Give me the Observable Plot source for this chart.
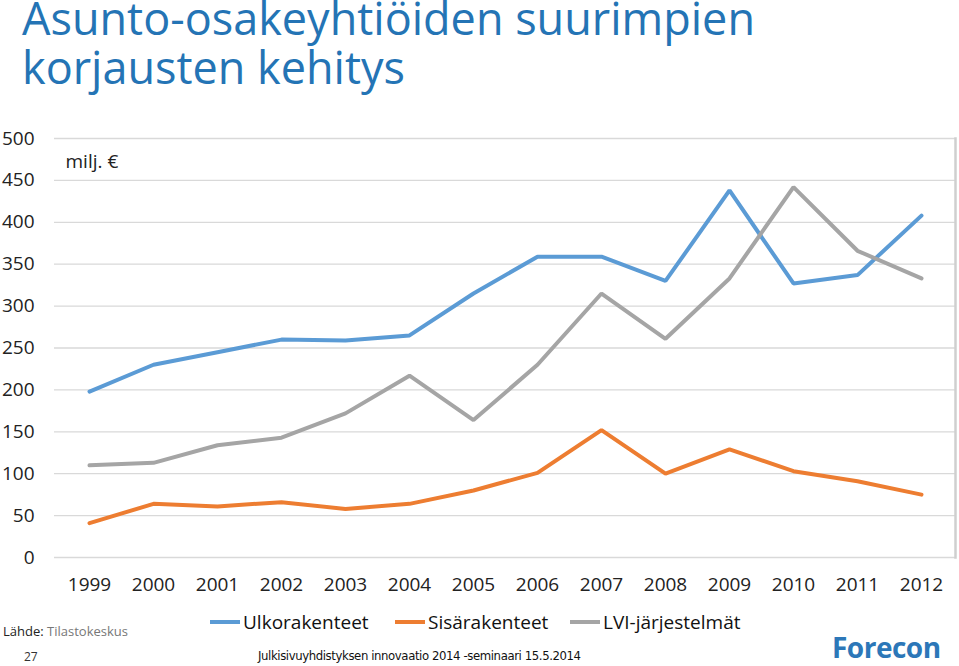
<!DOCTYPE html>
<html><head><meta charset="utf-8">
<script src="https://cdn.jsdelivr.net/npm/d3@7"></script>
<script src="https://cdn.jsdelivr.net/npm/@observablehq/plot@0.6"></script>
<style>
body{margin:0;background:#fff;font-family:"Open Sans",sans-serif;}
#wrap{position:relative;width:959px;height:666px;overflow:hidden;}
.title{position:absolute;left:22px;font-size:45px;line-height:34px;height:34px;color:#2474b5;font-weight:400;white-space:nowrap;}
#chart{position:absolute;left:0;top:120px;}
.lg{position:absolute;top:609px;font-size:19px;color:#111;display:flex;align-items:center;}
.sw{display:inline-block;width:30px;height:4px;margin-right:3px;}
#src{position:absolute;left:3px;top:622px;font-size:13px;color:#222;}
#src span{color:#777;}
#pg{position:absolute;left:24px;top:648px;font-size:12px;color:#333;}
#foot{position:absolute;left:258px;top:648px;font-size:13px;color:#111;font-family:"DejaVu Sans Condensed",sans-serif;letter-spacing:-0.4px;}
#logo{position:absolute;left:832px;top:630px;font-size:28px;line-height:34px;font-weight:700;color:#2c77b8;font-family:"Open Sans",sans-serif;letter-spacing:-0.5px;}
</style></head>
<body><div id="wrap">
<div class="title" style="top:1px">Asunto-osakeyhtiöiden suurimpien</div>
<div class="title" style="top:50px">korjausten kehitys</div>
<div id="chart"></div>
<div class="lg" style="left:210px"><span class="sw" style="background:#5b9bd5"></span>Ulkorakenteet</div>
<div class="lg" style="left:395px"><span class="sw" style="background:#ed7d31"></span>Sisärakenteet</div>
<div class="lg" style="left:570px"><span class="sw" style="background:#a5a5a5"></span>LVI-järjestelmät</div>
<div id="src">Lähde: <span>Tilastokeskus</span></div>
<div id="pg">27</div>
<div id="foot">Julkisivuyhdistyksen innovaatio 2014 -seminaari 15.5.2014</div>
<div id="logo">Forecon</div>
</div>
<script>
const years = ["1999","2000","2001","2002","2003","2004","2005","2006","2007","2008","2009","2010","2011","2012"];
const ulkorakenteet = [198,230,245,260,259,265,315,359,359,330,438,327,337,408];
const sisarakenteet = [41,64,61,66,58,64,80,101,152,100,129,103,91,75];
const lviJarjestelmat = [110,113,134,143,172,217,164,230,315,261,333,442,366,333];
const seriesNames = ["Ulkorakenteet","Sisärakenteet","LVI-järjestelmät"];
const seriesColors = ["#5b9bd5","#ed7d31","#a5a5a5"];
const yTicks = [0,50,100,150,200,250,300,350,400,450,500];

const seriesValues = [ulkorakenteet, sisarakenteet, lviJarjestelmat];
const rows = [];
seriesNames.forEach((s,i)=>years.forEach((y,j)=>rows.push({series:s, year:y, value:seriesValues[i][j]})));

const chart = Plot.plot({
  width:959, height:480,
  marginLeft:54, marginRight:4, marginTop:18, marginBottom:43,
  style:{fontFamily:"Open Sans, sans-serif", fontSize:"19px", color:"#222", background:"transparent"},
  x:{type:"point", domain:years, padding:0.5, label:null},
  y:{domain:[0,500], ticks:yTicks, label:null},
  color:{domain:seriesNames, range:seriesColors},
  marks:[
    Plot.ruleY(yTicks,{stroke:"#d9d9d9", strokeWidth:1.3}),
    Plot.ruleX([0],{frameAnchor:"left", stroke:"#d9d9d9", strokeWidth:1.3}),
    Plot.frame({anchor:"right", stroke:"#cfcfcf", strokeWidth:2.5}),
    Plot.axisY({ticks:yTicks, tickSize:0, tickPadding:20, fontSize:19, label:null}),
    Plot.axisX({tickSize:0, tickPadding:20, fontSize:19, label:null}),
    Plot.line(rows,{x:"year", y:"value", z:"series", stroke:"series", strokeWidth:4, strokeLinejoin:"miter", strokeLinecap:"round"}),
    Plot.text(["milj. €"],{frameAnchor:"top-left", dx:11, dy:16, fontSize:19, textAnchor:"start"})
  ]
});
document.getElementById("chart").appendChild(chart);
</script>
</body></html>
